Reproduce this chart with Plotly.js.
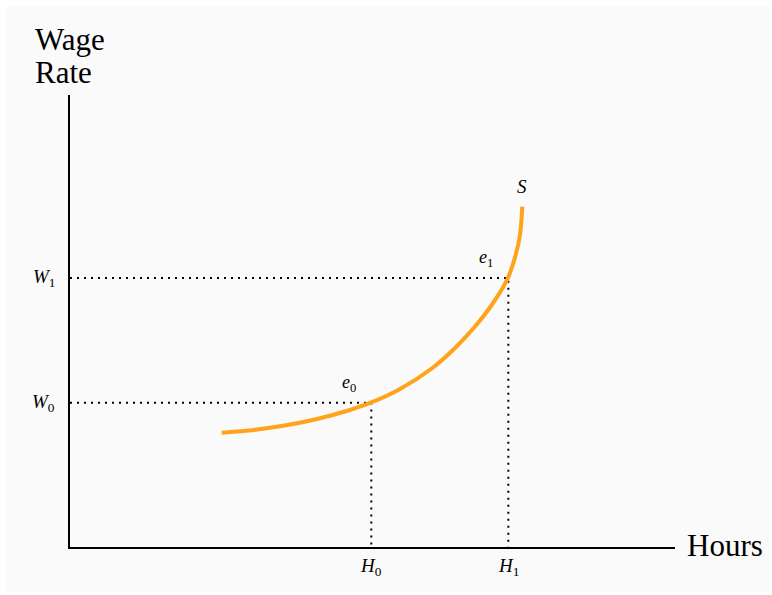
<!DOCTYPE html>
<html>
<head>
<meta charset="utf-8">
<script src="https://cdn.plot.ly/plotly-3.0.1.min.js"></script>
<style>
  html, body { margin: 0; padding: 0; background: #ffffff; }
  #chart { position: absolute; left: 6px; top: 6px; width: 764px; height: 586px; }
</style>
</head>
<body>
<div id="chart"></div>
<script>
// Supply curve S (hours vs wage rate)
var curveX = [2.507, 2.947, 3.499, 4.05, 4.6, 4.97, 5.426, 5.979, 6.364, 6.694, 6.97, 7.235, 7.355, 7.438, 7.476];
var curveY = [2.529, 2.577, 2.677, 2.821, 3.02, 3.192, 3.473, 3.949, 4.403, 4.878, 5.354, 5.945, 6.405, 6.903, 7.529];

// Equilibrium points e0, e1
var eqNames = ["e", "e"];
var eqSubs = ["0", "1"];
var eqHours = [4.98, 7.245];
var eqWages = [3.19, 5.95];

// Axis labels
var wageLabels = ["W", "W"];
var hourLabels = ["H", "H"];
var curveLabel = "S";
var yTitleLines = ["Wage", "Rate"];
var xTitle = "Hours";

var serif = "Liberation Serif";
var traces = [];

// dotted guide lines from the equilibrium points to both axes
for (var i = 0; i < eqHours.length; i++) {
  traces.push({
    x: [0, eqHours[i], eqHours[i]],
    y: [eqWages[i], eqWages[i], 0],
    mode: "lines",
    line: { color: "#000000", width: 2, dash: "2px,5px" },
    hoverinfo: "skip",
    showlegend: false
  });
}

traces.push({
  x: curveX,
  y: curveY,
  mode: "lines",
  line: { color: "rgb(255,163,26)", width: 4, shape: "spline", smoothing: 0.8 },
  showlegend: false
});

var annotations = [];
for (var j = 0; j < eqHours.length; j++) {
  annotations.push({
    x: 0, y: eqWages[j], xref: "x", yref: "y",
    text: "<i>" + wageLabels[j] + "</i><sub>" + eqSubs[j] + "</sub>",
    showarrow: false, xanchor: "right", yanchor: "middle", xshift: -13,
    font: { family: serif, size: 19, color: "#000" }
  });
  annotations.push({
    x: eqHours[j], y: 0, xref: "x", yref: "y",
    text: "<i>" + hourLabels[j] + "</i><sub>" + eqSubs[j] + "</sub>",
    showarrow: false, xanchor: "center", yanchor: "top", yshift: -6,
    font: { family: serif, size: 19, color: "#000" }
  });
  annotations.push({
    x: eqHours[j], y: eqWages[j], xref: "x", yref: "y",
    text: "<i>" + eqNames[j] + "</i><sub>" + eqSubs[j] + "</sub>",
    showarrow: false, xanchor: "center", yanchor: "bottom", xshift: -22, yshift: 6,
    font: { family: serif, size: 18, color: "#000" }
  });
}
annotations.push({
  x: curveX[curveX.length - 1], y: curveY[curveY.length - 1], xref: "x", yref: "y",
  text: "<i>" + curveLabel + "</i>",
  showarrow: false, xanchor: "center", yanchor: "bottom", yshift: 8,
  font: { family: serif, size: 19, color: "#000" }
});
annotations.push({
  x: -0.0613, y: 1.122, xref: "paper", yref: "paper",
  text: yTitleLines[0], showarrow: false, xanchor: "left", yanchor: "middle",
  font: { family: serif, size: 31, color: "#000" }
});
annotations.push({
  x: -0.0613, y: 1.049, xref: "paper", yref: "paper",
  text: yTitleLines[1], showarrow: false, xanchor: "left", yanchor: "middle",
  font: { family: serif, size: 31, color: "#000" }
});
annotations.push({
  x: 1.0167, y: 0, xref: "paper", yref: "paper",
  text: xTitle, showarrow: false, xanchor: "left", yanchor: "middle", yshift: 2,
  font: { family: serif, size: 31, color: "#000" }
});

var layout = {
  width: 764,
  height: 586,
  paper_bgcolor: "#fafafa",
  plot_bgcolor: "#fafafa",
  font: { family: serif },
  margin: { l: 64, r: 95, t: 89, b: 45 },
  showlegend: false,
  xaxis: {
    range: [0, 10], showgrid: false, zeroline: false, showticklabels: false,
    ticks: "", showline: true, linecolor: "#000", linewidth: 2, fixedrange: true
  },
  yaxis: {
    range: [0, 10], showgrid: false, zeroline: false, showticklabels: false,
    ticks: "", showline: true, linecolor: "#000", linewidth: 2, fixedrange: true
  },
  annotations: annotations
};

Plotly.newPlot("chart", traces, layout, { displayModeBar: false, staticPlot: true });
</script>
</body>
</html>
